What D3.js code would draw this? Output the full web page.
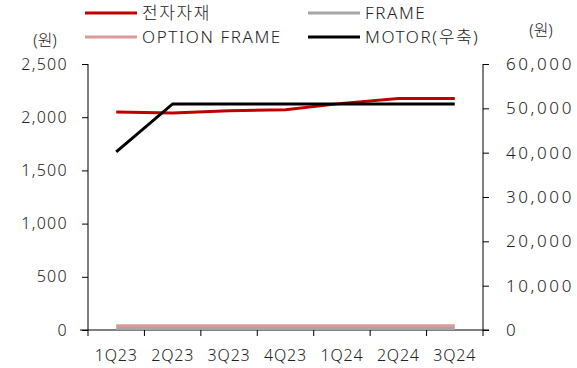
<!DOCTYPE html>
<html>
<head>
<meta charset="utf-8">
<script src="https://cdn.jsdelivr.net/npm/d3@7"></script>
<style>
  body { margin: 0; background: #fff; }
  svg text { font-family: "Noto Sans", "Noto Sans CJK KR", sans-serif; fill: #222; font-weight: 300; }
</style>
</head>
<body>
<svg id="chart" width="577" height="368"></svg>
<script>
// Quarterly unit prices (원): left axis for parts, right axis for motor
const quarters = ["1Q23", "2Q23", "3Q23", "4Q23", "1Q24", "2Q24", "3Q24"];
const electronicParts = [2050, 2040, 2060, 2070, 2130, 2175, 2175];
const frame = [13, 13, 13, 13, 13, 13, 13];
const optionFrame = [40, 40, 40, 40, 40, 40, 40];
const motor = [40200, 51000, 51000, 51000, 51000, 51000, 51000];

const leftTicks = [0, 500, 1000, 1500, 2000, 2500];
const rightTicks = [0, 10000, 20000, 30000, 40000, 50000, 60000];

const series = [
  { name: "전자자재", values: electronicParts, axis: "left", color: "#c00000" },
  { name: "FRAME", values: frame, axis: "left", color: "#a6a6a6" },
  { name: "OPTION FRAME", values: optionFrame, axis: "left", color: "#de9a9a" },
  { name: "MOTOR(우축)", values: motor, axis: "right", color: "#000000" }
];

const svg = d3.select("#chart");
const plot = { left: 88, right: 483, top: 64, bottom: 330 };

const x = d3.scaleBand().domain(quarters).range([plot.left, plot.right]);
const yL = d3.scaleLinear().domain([0, 2500]).range([plot.bottom, plot.top]);
const yR = d3.scaleLinear().domain([0, 60000]).range([plot.bottom, plot.top]);

const fmt = d3.format(",");

// Left axis
const gL = svg.append("g").attr("transform", `translate(${plot.left},0)`)
  .call(d3.axisLeft(yL).tickValues(leftTicks).tickFormat(fmt).tickSize(6).tickPadding(14));
// Right axis
const gR = svg.append("g").attr("transform", `translate(${plot.right},0)`)
  .call(d3.axisRight(yR).tickValues(rightTicks).tickFormat(fmt).tickSize(6).tickPadding(17));
// Category axis, with ticks on band edges
const gX = svg.append("g").attr("transform", `translate(0,${plot.bottom})`)
  .call(d3.axisBottom(x).tickSize(0).tickPadding(20));
gX.selectAll(".tick text").attr("font-size", 16).attr("letter-spacing", 0.8);
gX.select(".domain").remove();
svg.append("line")
  .attr("x1", plot.left - 8).attr("x2", plot.right + 6)
  .attr("y1", plot.bottom).attr("y2", plot.bottom)
  .attr("stroke", "#000").attr("stroke-width", 1);
svg.append("g").selectAll("line")
  .data(quarters.slice(1))
  .join("line")
  .attr("x1", d => x(d)).attr("x2", d => x(d))
  .attr("y1", plot.bottom).attr("y2", plot.bottom + 6)
  .attr("stroke", "#000");

gL.selectAll(".tick line").attr("stroke", "#000");
gL.selectAll(".tick text").attr("font-size", 16).attr("letter-spacing", 1.3);
gR.selectAll(".tick line").attr("stroke", "#000");
gR.selectAll(".tick text").attr("font-size", 17).attr("letter-spacing", 2.6);
gL.select(".domain").remove();
gR.select(".domain").remove();
svg.append("line").attr("x1", plot.left).attr("x2", plot.left)
  .attr("y1", plot.top).attr("y2", plot.bottom + 6).attr("stroke", "#000");
svg.append("line").attr("x1", plot.right).attr("x2", plot.right)
  .attr("y1", plot.top).attr("y2", plot.bottom + 6).attr("stroke", "#000");

// Series lines
const cx = d => x(d) + x.bandwidth() / 2;
series.forEach(s => {
  const y = s.axis === "left" ? yL : yR;
  const line = d3.line().x((v, i) => cx(quarters[i])).y(v => y(v));
  svg.append("path")
    .datum(s.values)
    .attr("d", line)
    .attr("fill", "none")
    .attr("stroke", s.color)
    .attr("stroke-width", 3);
});

// Unit labels
svg.append("text").attr("x", 45).attr("y", 46).attr("text-anchor", "middle")
  .attr("font-size", 16).text("(원)");
svg.append("text").attr("x", 541).attr("y", 36).attr("text-anchor", "middle")
  .attr("font-size", 16).text("(원)");

// Legend
const legendPos = [
  { x: 85, y: 13 }, { x: 308, y: 13 },
  { x: 85, y: 37 }, { x: 308, y: 37 }
];
const lg = svg.append("g");
series.forEach((s, i) => {
  const p = legendPos[i];
  lg.append("line").attr("x1", p.x).attr("x2", p.x + 52)
    .attr("y1", p.y).attr("y2", p.y)
    .attr("stroke", s.color).attr("stroke-width", 3);
  lg.append("text").attr("x", p.x + 57).attr("y", p.y + 6)
    .attr("font-size", 17).attr("letter-spacing", 1.6).text(s.name);
});
</script>
</body>
</html>
